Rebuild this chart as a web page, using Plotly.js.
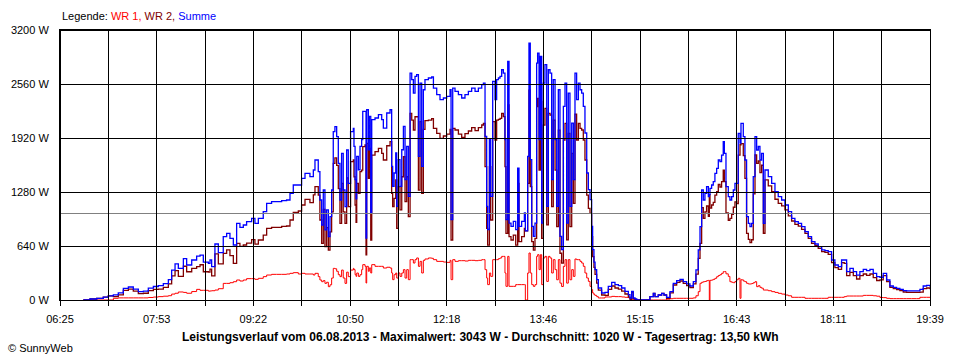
<!DOCTYPE html>
<html>
<head>
<meta charset="utf-8">
<script src="https://cdn.plot.ly/plotly-3.0.1.min.js"></script>
<style>
  html, body { margin: 0; padding: 0; background: #fff; }
  #chart { width: 960px; height: 360px; }
  .shapelayer path { shape-rendering: crispEdges; }
</style>
</head>
<body>
<div id="chart"></div>
<script>
// ---- data (minutes since midnight, watts) ----
const minuteOfDay = [
  406.3,412.4,418.5,424.5,429.1,433.7,438.2,442.8,447.4,451.9,456.5,461.1,465.6,470.2,474.7,479.3,483.9,486.9,490.0,493.0,497.6,500.6,505.2,509.7,512.8,515.8,520.4,
  521.9,523.4,526.4,529.5,534.0,537.1,540.1,543.2,546.2,549.2,
  552.3,555.3,559.9,562.9,566.0,570.5,573.6,578.1,582.7,587.3,
  591.8,594.9,597.9,602.5,605.5,608.6,613.1,616.2,617.7,620.7,
  622.2,623.8,625.3,626.8,628.3,629.9,631.4,632.9,634.4,635.9,
  637.5,639.0,640.5,642.0,643.5,645.1,646.6,648.1,650.2,652.7,
  653.3,654.3,655.2,655.8,657.3,658.8,660.3,661.3,663.4,664.3,
  664.9,666.4,667.3,668.6,669.5,672.5,675.6,678.6,680.1,683.2,
  686.2,687.7,688.6,689.9,691.4,692.3,693.8,695.3,696.9,698.4,
  699.9,701.4,702.9,704.5,706.0,707.5,709.0,710.5,712.1,713.6,
  715.1,716.6,718.1,721.2,724.2,725.8,728.8,731.8,734.9,737.9,
  741.0,741.9,743.4,745.5,748.6,751.6,754.6,757.7,760.7,763.8,
  766.8,769.9,771.4,772.9,774.4,775.3,776.9,778.1,779.9,782.0,
  783.5,785.1,
  786.6,788.1,789.6,791.1,792.0,793.6,794.8,796.6,798.7,800.9,
  802.7,803.9,806.3,808.8,809.7,811.8,813.0,814.2,815.5,817.0,
  818.5,820.0,820.9,822.2,823.4,824.6,826.1,827.6,829.2,830.7,
  832.2,833.7,835.2,836.8,838.3,839.8,841.3,842.8,844.4,845.9,
  847.4,848.9,850.4,852.0,853.5,855.0,856.5,858.1,859.6,861.1,
  862.6,864.1,865.7,867.2,868.7,870.2,871.1,872.3,873.3,874.8,
  876.3,879.3,882.4,885.4,888.5,891.5,894.6,897.6,900.6,903.7,
  905.2,906.7,908.2,909.8,911.3,
  921.9,923.4,926.5,928.0,931.0,934.1,936.2,938.6,941.7,944.7,
  947.8,950.8,953.8,956.9,959.9,963.0,965.4,967.5,969.1,970.6,
  972.1,973.6,975.1,976.7,977.6,978.2,979.7,981.2,982.7,984.3,
  985.8,987.3,988.8,990.3,991.3,992.8,994.9,996.4,998.0,999.5,
  1001.0,1002.5,1004.0,1005.6,1006.5,1007.7,1008.6,1010.1,1011.6,1013.2,
  1014.7,1016.2,1017.7,1019.3,1020.8,1022.3,1023.8,1025.3,1026.9,1028.4,
  1031.4,1034.5,1037.5,1040.5,1043.6,1046.6,1049.7,
  1052.7,1055.7,1058.8,1061.8,1064.9,1067.9,1070.9,1074.0,1077.0,1080.1,
  1083.1,1086.1,1089.2,1092.2,1095.3,1098.3,1100.7,1102.9,1105.9,1109.0,
  1112.0,1115.0,1118.1,1121.1,1124.2,1127.2,1130.3,1133.3,1136.3,1139.4,
  1142.4,1145.5,1148.5,1151.5,1154.6,1157.6,1162.2,1166.8,1169.8,1172.8,
  1175.9,1179
];

const wr1 = [
  0,0,0,0,0,20,25,25,25,25,25,25,30,35,40,45,51,70,80,95,90,80,100,126,115,115,105,
  107,110,118,134,197,197,205,217,237,225,
  237,253,253,245,257,277,296,304,304,304,
  308,316,324,308,316,308,308,296,316,277,
  237,217,230,197,210,158,180,260,375,370,
  340,300,277,355,260,197,330,277,355,375,
  360,300,280,320,280,300,360,419,399,201,
  399,340,380,320,419,399,399,399,379,388,
  379,320,241,300,320,260,320,280,320,360,
  260,360,241,478,478,438,478,498,399,458,
  320,470,486,498,494,478,458,458,450,446,
  470,241,478,458,466,466,462,470,470,466,
  470,478,478,360,260,182,320,280,478,478,
  478,490,
  498,517,517,320,162,517,162,162,162,182,
  182,182,182,182,0,320,557,320,182,162,
  182,517,537,360,537,182,498,517,220,517,
  498,320,478,360,240,478,200,160,399,478,
  200,478,240,360,280,486,478,478,458,438,
  399,320,261,221,162,123,83,63,55,40,
  24,24,36,36,43,40,40,36,32,28,
  20,12,10,5,0,
  0,0,0,0,0,0,0,10,15,20,
  20,20,20,20,20,25,50,99,198,210,
  217,220,229,233,0,233,237,245,257,276,
  290,300,316,336,336,310,280,217,210,205,
  220,240,257,20,240,240,225,217,198,190,
  190,195,205,217,158,170,150,140,118,118,
  110,99,90,79,70,59,50,
  32,32,32,32,20,20,20,20,20,20,
  20,32,32,32,32,32,40,47,47,47,
  47,47,55,55,55,50,45,30,28,20,
  16,16,16,16,16,16,16,16,32,32,
  32,32
];

const wr2 = [
  0,12,20,35,50,40,60,113,129,105,75,80,110,125,130,150,190,285,347,280,400,335,374,395,418,335,330,
  367,285,546,427,553,593,526,435,671,636,
  652,675,715,663,711,770,849,861,861,873,
  877,948,1039,1055,1126,1193,1154,1245,1343,1244,
  948,672,1074,633,857,592,808,1044,1620,1684,
  1596,1320,908,1383,1044,909,1448,1106,1640,1659,
  1461,1126,920,1382,1264,1521,1540,1817,1837,534,
  1856,1441,1796,711,1718,1758,1797,1738,1659,1828,
  1876,1264,1106,1205,1422,850,1343,1067,1461,1698,
  1166,1461,987,2212,2133,2015,2172,2172,1303,2113,
  1264,2022,2125,2133,2149,2034,1975,1916,1944,1967,
  2022,711,2034,2015,1967,1928,1971,2003,2042,2007,
  2042,2074,2093,1580,850,651,1580,948,2113,1896,
  2133,2141,
  2152,2212,2173,1580,790,2311,750,711,770,651,
  1382,691,750,849,820,1382,2486,1343,691,592,
  730,2291,2390,1540,2350,730,2073,2272,890,2212,
  2192,1106,2133,1540,870,2014,554,436,1896,2093,
  712,1975,870,1737,1146,2204,1896,2093,2034,2015,
  1896,1659,1244,1086,1027,750,513,387,304,201,
  118,59,55,126,166,142,130,106,71,35,
  4,91,14,7,0,
  0,40,79,40,59,79,59,20,84,178,
  209,225,197,170,146,192,306,494,671,1094,
  968,1044,1114,992,1250,1090,1126,1157,1244,1284,
  1369,1339,1402,1540,1402,1033,945,968,1015,1099,
  1163,1143,1718,1840,1854,1854,1711,1442,790,719,
  679,714,1257,1719,1620,1649,1509,1597,791,1423,
  1352,1284,1194,1146,1115,1067,997,
  936,896,876,837,790,731,671,644,612,573,
  565,541,442,383,363,442,434,289,328,289,
  249,289,308,293,308,266,231,239,288,217,
  150,134,122,110,95,91,91,91,94,134,
  142,126
];

const summe = [
  0,12,20,35,50,60,85,138,154,130,100,105,140,160,170,195,241,355,427,375,490,415,474,521,533,450,435,
  474,395,664,561,750,790,731,652,908,861,
  889,928,968,908,968,1047,1145,1165,1165,1177,
  1185,1264,1363,1363,1442,1501,1462,1541,1659,1521,
  1185,889,1304,830,1067,750,988,1304,1995,2054,
  1936,1620,1185,1738,1304,1106,1778,1383,1995,2034,
  1821,1426,1200,1702,1544,1821,1900,2236,2236,735,
  2255,1781,2176,1031,2137,2157,2196,2137,2038,2216,
  2255,1584,1347,1505,1742,1110,1663,1347,1781,2058,
  1426,1821,1228,2690,2611,2453,2650,2670,1702,2571,
  1584,2492,2611,2631,2643,2512,2433,2374,2394,2413,
  2492,952,2512,2473,2433,2394,2433,2473,2512,2473,
  2512,2552,2571,1940,1110,833,1900,1228,2591,2374,
  2611,2631,
  2650,2729,2690,1900,952,2828,912,873,932,833,
  1564,873,932,1031,820,1702,3043,1663,873,754,
  912,2808,2927,1900,2887,912,2571,2789,1110,2729,
  2690,1426,2611,1900,1110,2492,754,596,2295,2571,
  912,2453,1110,2097,1426,2690,2374,2571,2492,2453,
  2295,1979,1505,1307,1189,873,596,450,359,241,
  142,83,91,162,209,182,170,142,103,63,
  24,103,24,12,0,
  0,40,79,40,59,79,59,30,99,198,
  229,245,217,190,166,217,356,593,869,1304,
  1185,1264,1343,1225,1250,1323,1363,1402,1501,1560,
  1659,1639,1718,1876,1738,1343,1225,1185,1225,1304,
  1383,1383,1975,1860,2094,2094,1936,1659,988,909,
  869,909,1462,1936,1778,1819,1659,1737,909,1541,
  1462,1383,1284,1225,1185,1126,1047,
  968,928,908,869,810,751,691,664,632,593,
  585,573,474,415,395,474,474,336,375,336,
  296,336,363,348,363,316,276,269,316,237,
  166,150,138,126,111,107,107,107,126,166,
  174,158
];

const seriesNames = ['WR 1', 'WR 2', 'Summe'];
const yTickValues = [0, 640, 1280, 1920, 2560, 3200];
const yTickLabels = ['0 W', '640 W', '1280 W', '1920 W', '2560 W', '3200 W'];
const xTickLabels = ['06:25','','07:53','','09:22','','10:50','','12:18','','13:46','','15:15','','16:43','','18:11','','19:39'];
const dayStart = 385;   // 06:25
const dayEnd = 1179;    // 19:39
const averageW = 1020;
const footerText = 'Leistungsverlauf vom 06.08.2013 - Maximalwert: 3043 W - Durchschnitt: 1020 W - Tagesertrag: 13,50 kWh';
const creditText = '© SunnyWeb';

// ---- build ----
const colors = { wr1: '#FF0000', wr2: '#800000', summe: '#0000FF' };
const nInt = xTickLabels.length - 1;
const xTickVals = xTickLabels.map((_, i) => dayStart + i * (dayEnd - dayStart) / nInt);

const traces = [
  { x: minuteOfDay, y: wr1,   name: seriesNames[0], mode: 'lines', line: { color: colors.wr1, width: 1, shape: 'hv' } },
  { x: minuteOfDay, y: wr2,   name: seriesNames[1], mode: 'lines', line: { color: colors.wr2, width: 1.3, shape: 'hv' } },
  { x: minuteOfDay, y: summe, name: seriesNames[2], mode: 'lines', line: { color: colors.summe, width: 1.3, shape: 'hv' } }
];

const shapes = [];
shapes.push({ type: 'line', xref: 'x', yref: 'y', x0: dayStart, x1: dayEnd, y0: averageW, y1: averageW,
  line: { color: '#808080', width: 1 }, layer: 'above' });
xTickVals.forEach(v => shapes.push({ type: 'line', xref: 'x', yref: 'y', x0: v, x1: v, y0: 0, y1: 3200,
  line: { color: '#000', width: 1 }, layer: 'above' }));
yTickValues.forEach(v => shapes.push({ type: 'line', xref: 'x', yref: 'y', x0: dayStart, x1: dayEnd, y0: v, y1: v,
  line: { color: '#000', width: 1 }, layer: 'above' }));

const legendText = 'Legende: ' +
  '<span style="color:' + colors.wr1 + '">' + seriesNames[0] + ',</span> ' +
  '<span style="color:' + colors.wr2 + '">' + seriesNames[1] + ',</span> ' +
  '<span style="color:' + colors.summe + '">' + seriesNames[2] + '</span>';

const layout = {
  width: 960, height: 360,
  margin: { l: 60, r: 30, t: 30, b: 60, pad: 0 },
  paper_bgcolor: '#fff', plot_bgcolor: '#fff',
  font: { family: 'Liberation Sans, Arial, sans-serif', size: 11, color: '#000' },
  showlegend: false,
  xaxis: {
    range: [dayStart, dayEnd], tickmode: 'array', tickvals: xTickVals, ticktext: xTickLabels,
    ticks: 'outside', ticklen: 5, tickwidth: 1, tickcolor: '#000', ticklabelstandoff: 4,
    showgrid: false, zeroline: false, showline: true, mirror: true, linecolor: '#000', linewidth: 1,
    tickfont: { size: 11 }, fixedrange: true
  },
  yaxis: {
    range: [0, 3200], tickmode: 'array', tickvals: yTickValues, ticktext: yTickLabels,
    ticks: '', ticklabelstandoff: 8,
    showgrid: false, zeroline: false, showline: true, mirror: true, linecolor: '#000', linewidth: 1,
    tickfont: { size: 11 }, fixedrange: true
  },
  shapes: shapes,
  annotations: [
    { xref: 'paper', yref: 'paper', x: 0, y: 1 + 14 / 270, xanchor: 'left', yanchor: 'middle',
      text: legendText, showarrow: false, font: { size: 11, color: '#000' } },
    { xref: 'paper', yref: 'paper', x: 420 / 870, y: -37 / 270, xanchor: 'center', yanchor: 'middle',
      text: '<b>' + footerText + '</b>', showarrow: false, font: { size: 12, color: '#000' } },
    { xref: 'paper', yref: 'paper', x: -54 / 870, y: -48 / 270, xanchor: 'left', yanchor: 'middle',
      text: creditText, showarrow: false, font: { size: 11, color: '#000' } }
  ]
};

Plotly.newPlot('chart', traces, layout, { displayModeBar: false, staticPlot: true });
</script>
</body>
</html>
